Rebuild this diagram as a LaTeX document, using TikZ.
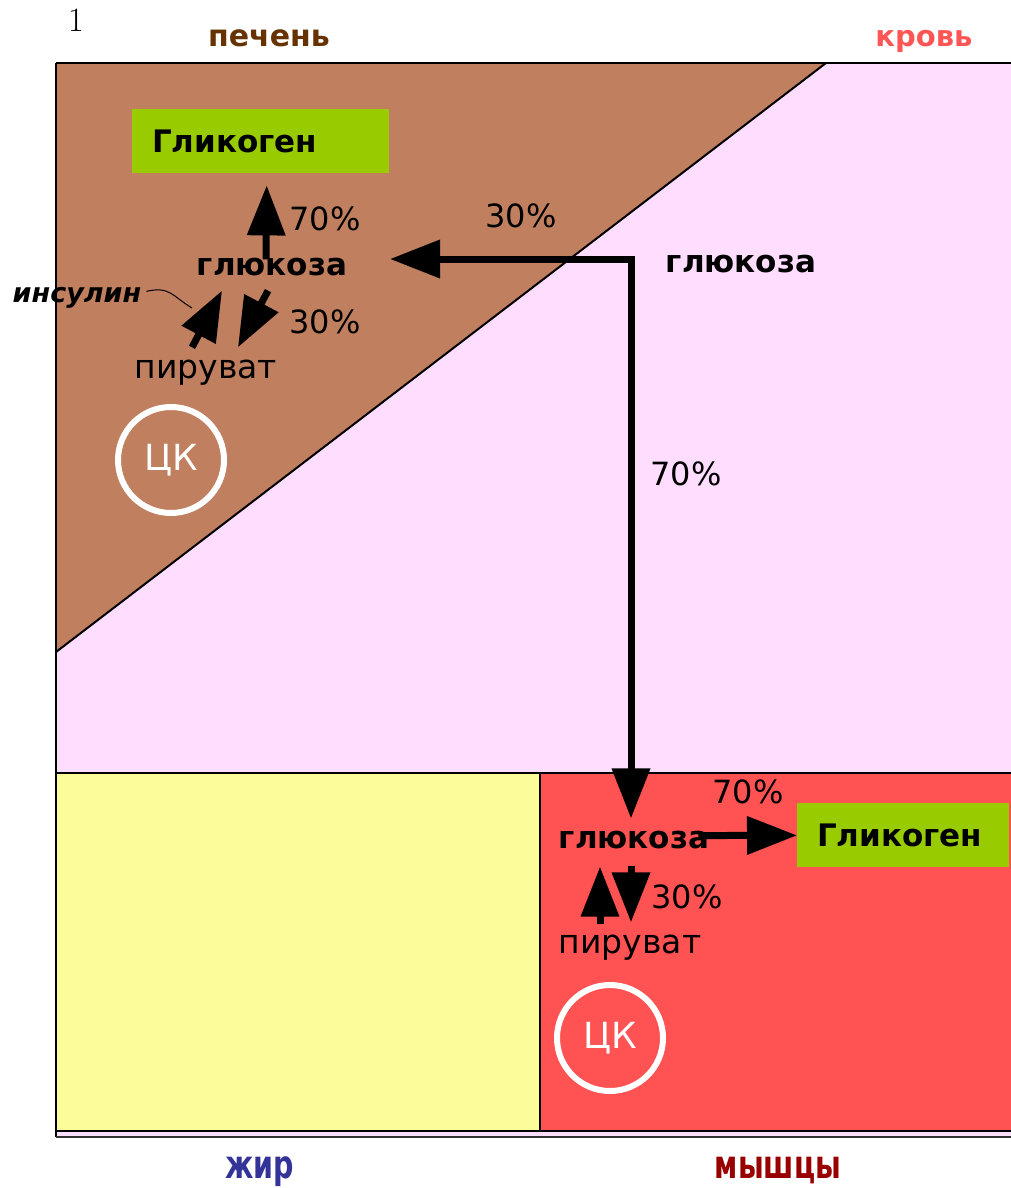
\documentclass[tikz,border=0pt]{standalone}
\usepackage{fontspec}
\usepackage{graphicx}
\newfontfamily\dejavu{DejaVu Sans}
\usetikzlibrary{arrows.meta}
\definecolor{liver}{RGB}{192,128,96}
\definecolor{blood}{RGB}{255,221,255}
\definecolor{fat}{RGB}{252,252,153}
\definecolor{muscle}{RGB}{255,82,82}
\definecolor{glyco}{RGB}{153,204,0}
\definecolor{livertxt}{RGB}{102,51,0}
\definecolor{bloodtxt}{RGB}{255,85,85}
\definecolor{fattxt}{RGB}{51,51,153}
\definecolor{muscletxt}{RGB}{153,0,0}
\begin{document}
\begin{tikzpicture}[x=1pt,y=-1pt,
    bigarrow/.style={line width=7pt,-{Triangle[length=50pt,width=37pt]}},
    txt/.style={inner sep=0pt,anchor=base,font=\dejavu\fontsize{#1}{#1}\selectfont},
    btxt/.style={inner sep=0pt,anchor=base,font=\dejavu\bfseries\fontsize{#1}{#1}\selectfont},
    glybox/.style={fill=glyco,inner ysep=0pt,inner xsep=20pt,minimum height=64pt,align=left,
        font=\dejavu\bfseries\fontsize{31}{31}\selectfont},
    ck/.style={circle,draw=white,line width=6pt,minimum size=106pt,inner sep=0pt,text=white,
        font=\dejavu\fontsize{36}{36}\selectfont}]
    \useasboundingbox (0,0) rectangle (1011,1188);

    \fill[liver] (56,63) -- (826,63) -- (56,652) -- cycle;
    \fill[blood] (826,63) -- (1011,63) -- (1011,773) -- (56,773) -- (56,652) -- cycle;
    \fill[fat] (56,773) rectangle (540,1131);
    \fill[muscle] (540,773) rectangle (1011,1131);
    \fill[blood] (56,1131) rectangle (1011,1136);
    \draw[line width=2pt] (826,63) -- (56,652);
    \draw[line width=2.5pt] (56,63) -- (1011,63);
    \draw[line width=2.5pt] (56,63) -- (56,1137);
    \draw[line width=2pt] (56,773) -- (1011,773);
    \draw[line width=2pt] (540,773) -- (540,1131);
    \draw[line width=2.5pt] (56,1131) -- (1011,1131);
    \draw[line width=2.5pt,black!80] (56,1137) -- (1011,1137);

    \node [inner sep=0pt,anchor=base,font=\fontsize{34}{34}\selectfont] (num) at (76,32) {1};
    \node [btxt=30,text=livertxt] (liverlbl) at (269,47) {печень};
    \node [btxt=29,text=bloodtxt] (bloodlbl) at (924,47) {кровь};
    \node [btxt=30,text=fattxt] (fatlbl) at (260,1178) {\scalebox{0.95}[1.3]{жир}};
    \node [btxt=30,text=muscletxt] (musclelbl) at (778,1178) {\scalebox{0.95}[1.3]{мышцы}};

    \node [glybox,text width=217pt,anchor=north west] (glyL) at (132,109) {Гликоген};
    \node [btxt=31] (gluL) at (272,275) {глюкоза};
    \node [txt=33] (pirL) at (206,378) {пируват};
    \node [inner sep=0pt,anchor=base,font=\dejavu\bfseries\itshape\fontsize{27}{27}\selectfont] (ins) at (77,302) {инсулин};
    \node [txt=32] (p70a) at (325,230) {70\%};
    \node [txt=32] (p30a) at (325,333) {30\%};
    \node [txt=32] (p30b) at (521,227) {30\%};
    \node [ck] (ckL) at (171,460) {ЦК};

    \node [btxt=31] (gluB) at (741,272) {глюкоза};
    \node [txt=32] (p70b) at (686,485) {70\%};

    \node [glybox,text width=172pt,anchor=north west] (glyM) at (797,803) {Гликоген};
    \node [btxt=31] (gluM) at (634,848) {глюкоза};
    \node [txt=33] (pirM) at (630,953) {пируват};
    \node [txt=32] (p70c) at (748,803) {70\%};
    \node [txt=32] (p30c) at (687,908) {30\%};
    \node [ck] (ckM) at (610,1038) {ЦК};

    \coordinate (split) at (631,259);
    \coordinate (inL) at (390,259);
    \coordinate (insend) at (192,308);

    \draw[bigarrow,line cap=rect] (split) -- (inL);
    \draw[bigarrow,line cap=rect] (split) -- ([shift={(-3,-12)}]gluM.north);
    \draw[bigarrow] ([shift={(-6,2)}]gluL.north) -- ([shift={(6,12)}]glyL.south);
    \draw[bigarrow] ([shift={(-14,-12)}]pirL.north) -- ([shift={(-50,15)}]gluL.south);
    \draw[bigarrow] ([shift={(-4,15)}]gluL.south) -- ([shift={(32,-12)}]pirL.north);
    \draw[line width=1pt] ([shift={(5,-6)}]ins.east) .. controls (170,286) and (172,296) .. (insend);

    \draw[bigarrow] ([shift={(-11,-4)}]gluM.east) -- (glyM);
    \draw[bigarrow] ([shift={(-30,-10)}]pirM.north) -- ([shift={(-34,18)}]gluM.south);
    \draw[bigarrow] ([shift={(-3,17)}]gluM.south) -- ([shift={(1,-12)}]pirM.north);
\end{tikzpicture}
\end{document}
